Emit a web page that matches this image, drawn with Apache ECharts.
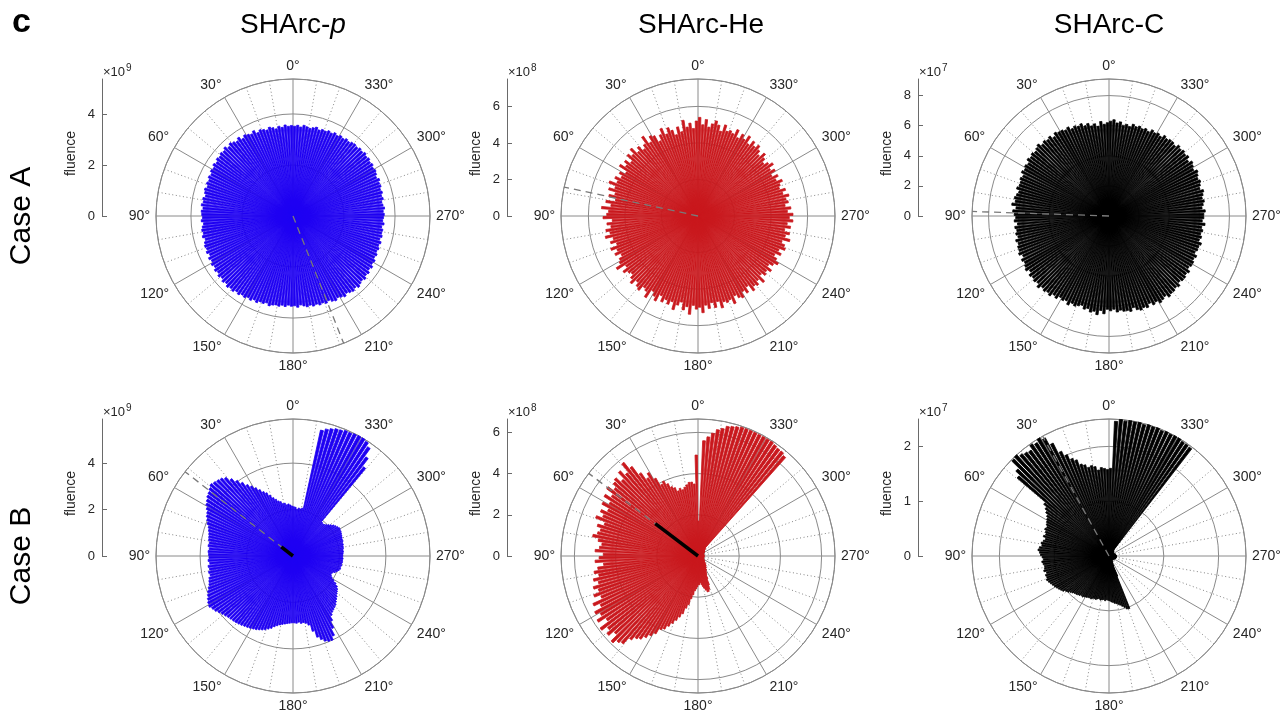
<!DOCTYPE html>
<html><head><meta charset="utf-8">
<script src="https://cdn.jsdelivr.net/npm/echarts@6/dist/echarts.min.js"></script>
<style>html,body{margin:0;padding:0;background:#fff}#c{width:1288px;height:712px}</style>
</head><body><div id="c"></div>
<script>
// ---- DATA ----
// 180 angular bins of 2 degrees; bin centres in degrees (0 at top, counter-clockwise)
const binWidth = 2;
const binCenters = Array.from({length: 180}, (_, i) => binWidth * i + binWidth / 2);
const angleTickValues = [0, 30, 60, 90, 120, 150, 180, 210, 240, 270, 300, 330];
const columnTitles = ['SHArc-', 'SHArc-He', 'SHArc-C'];
const rowTitles = ['Case A', 'Case B'];
const exponents = [9, 8, 7];

// fluence per bin, in units of 10^exponent
const caseA_p = [
3.55,3.52,3.58,3.50,3.56, 3.48,3.55,3.60,3.52,3.58, 3.62,3.55,3.68,3.60,3.65,
3.70,3.62,3.75,3.66,3.72, 3.78,3.70,3.80,3.72,3.76, 3.70,3.74,3.66,3.72,3.64,
3.68,3.60,3.65,3.58,3.62, 3.55,3.62,3.58,3.52,3.60, 3.56,3.62,3.54,3.60,3.58,
3.55,3.60,3.52,3.58,3.62, 3.58,3.64,3.56,3.62,3.66, 3.62,3.68,3.60,3.70,3.64,
3.72,3.66,3.74,3.68,3.76, 3.70,3.78,3.72,3.80,3.74, 3.78,3.70,3.75,3.68,3.72,
3.65,3.70,3.62,3.68,3.60, 3.62,3.56,3.64,3.58,3.55, 3.58,3.52,3.56,3.50,3.54,
3.52,3.58,3.50,3.55,3.60, 3.56,3.62,3.58,3.64,3.60, 3.66,3.60,3.68,3.72,3.65,
3.70,3.76,3.68,3.74,3.78, 3.72,3.80,3.74,3.70,3.76, 3.68,3.72,3.64,3.70,3.62,
3.66,3.58,3.62,3.56,3.60, 3.55,3.60,3.52,3.58,3.54, 3.56,3.50,3.58,3.52,3.55,
3.58,3.54,3.60,3.55,3.52, 3.60,3.56,3.62,3.58,3.64, 3.62,3.68,3.60,3.66,3.70,
3.66,3.72,3.68,3.74,3.70, 3.76,3.70,3.74,3.68,3.72, 3.70,3.64,3.68,3.62,3.66,
3.60,3.65,3.58,3.62,3.56, 3.58,3.52,3.60,3.55,3.50, 3.54,3.58,3.50,3.56,3.52];
const caseA_He = [
5.2,4.8,5.1,4.9,5.3, 4.7,5.0,4.6,4.9,5.1, 4.8,5.2,4.9,4.6,5.0,
5.1,4.8,5.3,4.9,4.7, 5.0,4.8,5.2,4.9,5.1, 4.7,5.0,4.8,5.1,4.6,
4.9,4.7,5.0,4.8,5.2, 4.8,5.1,4.7,5.0,4.6, 5.1,4.8,5.3,4.9,5.0,
5.2,4.7,5.0,4.8,5.1, 4.9,5.2,4.8,5.0,4.7, 5.1,4.8,5.0,4.7,4.9,
5.0,5.3,4.8,5.1,4.9, 4.8,5.0,5.2,4.9,5.1, 5.2,4.9,5.0,5.3,4.8,
5.0,5.2,4.8,5.1,4.9, 5.1,4.9,5.3,5.0,4.8, 5.2,5.0,5.4,4.9,5.1,
5.0,5.3,4.9,5.1,4.8, 5.1,4.8,5.2,4.9,5.0, 4.9,5.2,4.8,5.0,5.1,
4.8,5.0,4.7,5.1,4.9, 5.0,4.8,5.1,4.7,4.9, 4.8,5.0,4.7,4.9,5.1,
4.9,4.7,5.0,4.8,5.1, 5.0,4.8,5.2,4.9,5.1, 4.8,5.1,4.9,5.2,5.0,
5.2,4.9,5.1,4.8,5.0, 4.9,5.1,4.8,5.0,4.7, 4.8,5.0,4.7,4.9,4.6,
4.9,4.7,5.0,4.8,4.6, 4.8,5.0,4.7,4.9,5.1, 4.9,5.1,4.8,5.2,4.9,
5.1,4.8,5.2,4.9,5.0, 4.9,5.2,4.8,5.1,5.3, 5.1,4.9,5.3,5.0,5.4];
const caseA_C = [
6.2,6.1,6.3,6.0,6.2, 6.1,6.3,6.2,6.4,6.3, 6.4,6.3,6.5,6.4,6.5,
6.5,6.6,6.4,6.6,6.5, 6.6,6.5,6.7,6.6,6.5, 6.6,6.5,6.6,6.4,6.5,
6.4,6.5,6.3,6.4,6.3, 6.3,6.4,6.2,6.3,6.4, 6.3,6.5,6.2,6.4,6.3,
6.2,6.3,6.1,6.3,6.2, 6.3,6.2,6.4,6.3,6.4, 6.4,6.5,6.3,6.5,6.4,
6.5,6.6,6.4,6.6,6.5, 6.6,6.5,6.7,6.5,6.6, 6.5,6.6,6.4,6.5,6.3,
6.4,6.3,6.5,6.3,6.4, 6.3,6.2,6.4,6.3,6.5, 6.4,6.6,6.3,6.5,6.2,
6.3,6.2,6.4,6.3,6.4, 6.4,6.5,6.3,6.5,6.6, 6.5,6.6,6.4,6.6,6.5,
6.7,6.6,6.5,6.7,6.6, 6.6,6.5,6.6,6.4,6.5, 6.5,6.4,6.5,6.3,6.4,
6.4,6.3,6.4,6.2,6.3, 6.3,6.4,6.2,6.3,6.2, 6.3,6.2,6.4,6.2,6.3,
6.3,6.4,6.2,6.3,6.4, 6.3,6.4,6.5,6.3,6.4, 6.5,6.4,6.5,6.6,6.4,
6.5,6.6,6.4,6.6,6.5, 6.6,6.5,6.6,6.4,6.5, 6.5,6.4,6.5,6.3,6.4,
6.3,6.4,6.2,6.3,6.2, 6.3,6.2,6.3,6.1,6.2, 6.1,6.3,6.2,6.4,6.3];
const caseB_p = [
2.15,2.20,2.25,2.22,2.30, 2.30,2.40,2.45,2.55,2.65, 2.80,2.95,3.05,3.20,3.35,
3.50,3.65,3.85,4.05,4.25, 4.45,4.55,4.60,4.65,4.70, 4.62,4.55,4.50,4.42,4.35,
4.25,4.15,4.10,4.02,3.95, 3.85,3.80,3.75,3.72,3.70, 3.65,3.68,3.62,3.66,3.64,
3.62,3.66,3.60,3.68,3.64, 3.70,3.66,3.74,3.78,3.82, 3.90,3.98,4.05,4.12,4.18,
4.22,4.15,4.10,4.02,3.95, 3.90,3.85,3.82,3.80,3.78, 3.75,3.72,3.68,3.65,3.62,
3.58,3.55,3.50,3.45,3.40, 3.32,3.25,3.15,3.08,3.02, 2.98,2.95,2.92,2.90,2.88,
2.88,2.90,2.86,2.92,2.90, 2.95,3.05,3.35,3.65,3.80, 3.92,3.98,4.00,3.85,3.55,
3.25,3.05,2.95,2.90,2.85, 2.80,2.72,2.65,2.58,2.50, 2.45,2.40,2.32,2.20,2.05,
1.92,1.85,1.82,1.85,1.95, 2.02,2.08,2.12,2.10,2.14, 2.12,2.15,2.14,2.16,2.14,
2.15,2.16,2.18,2.17,2.20, 2.20,2.22,2.21,2.25,2.24, 2.26,2.28,2.30,2.32,2.33,
2.34,2.30,2.25,2.20,2.12, 2.05,1.98,1.92,1.90,1.92, 4.90,5.30,5.70,5.85,5.90,
5.90,5.88,5.85,5.85,5.80, 5.78,5.72,5.65,5.55,2.10, 2.05,2.08,2.02,2.10,2.12];
const caseB_He = [
4.9,3.5,3.6,3.6,3.5, 3.4,3.3,3.4,3.3,3.5, 3.6,3.8,4.0,3.9,4.3,
4.7,4.5,4.9,5.4,5.8, 5.3,5.6,5.2,5.5,5.4, 5.2,5.5,5.1,5.4,5.0,
5.3,4.9,5.2,5.0,5.3, 4.8,5.1,4.9,5.0,5.2, 4.9,4.7,4.8,5.0,4.6,
4.8,5.0,4.6,4.9,5.1, 4.9,5.2,5.0,5.3,5.1, 5.4,5.1,5.6,5.3,5.7,
5.5,5.8,5.4,5.9,5.6, 5.8,5.5,5.9,5.7,5.6, 5.2,5.0,4.9,4.7,4.5,
4.3,4.0,3.9,3.7,3.5, 3.3,3.1,2.9,2.6,2.4, 2.1,1.9,1.7,1.6,1.5,
1.4,1.4,1.3,1.4,1.5, 1.6,1.7,1.8,1.8,1.7, 1.5,1.2,1.0,0.9,0.8,
0.8,0.7,0.7,0.6,0.6, 0.6,0.5,0.5,0.5,0.4, 0.4,0.4,0.4,0.35,0.35,
0.35,0.3,0.3,0.3,0.3, 0.3,0.3,0.3,0.3,0.3, 0.3,0.3,0.3,0.3,0.3,
0.3,0.3,0.3,0.3,0.3, 0.3,0.3,0.3,0.3,0.3, 0.3,0.3,0.3,0.35,0.35,
0.35,0.4,0.4,0.4,0.4, 0.45,0.5,0.5,0.5,6.4, 6.5,6.5,6.55,6.6,6.6,
6.6,6.6,6.6,6.6,6.6, 6.6,6.55,6.5,6.45,6.3, 6.2,6.0,5.8,5.6,1.7];
const caseB_C = [
1.58,1.60,1.62,1.58,1.65, 1.68,1.66,1.72,1.75,1.85, 1.90,2.00,2.10,2.30,2.45,
2.50,2.45,2.48,2.40,2.42, 2.45,2.50,2.48,2.30,2.20, 1.52,1.45,1.40,1.35,1.32,
1.30,1.28,1.25,1.27,1.24, 1.22,1.25,1.20,1.23,1.26, 1.24,1.28,1.30,1.27,1.25,
1.22,1.20,1.23,1.21,1.19, 1.20,1.22,1.18,1.21,1.20, 1.22,1.20,1.18,1.16,1.14,
1.12,1.10,1.08,1.06,1.02, 1.00,0.97,0.95,0.93,0.92, 0.91,0.90,0.88,0.89,0.87,
0.86,0.85,0.84,0.85,0.83, 0.82,0.83,0.81,0.80,0.82, 0.81,0.80,0.82,0.80,0.81,
0.82,0.84,0.85,0.87,0.88, 0.90,0.92,0.95,0.98,1.02, 1.03,0.40,0.20,0.15,0.12,
0.12,0.10,0.10,0.09,0.10, 0.09,0.10,0.08,0.09,0.10, 0.10,0.09,0.10,0.11,0.10,
0.11,0.12,0.11,0.12,0.13, 0.13,0.12,0.13,0.14,0.13, 0.14,0.13,0.14,0.13,0.14,
0.13,0.14,0.12,0.13,0.12, 0.12,0.11,0.12,0.10,0.11, 0.10,0.11,0.10,0.09,0.10,
0.09,0.10,0.09,0.10,0.11, 0.10,0.11,0.12,0.12,0.13, 0.15,2.47,2.48,2.48,2.50,
2.50,2.49,2.50,2.48,2.50, 2.49,2.50,2.48,2.50,2.49, 2.50,2.48,2.50,2.46,1.60];

// radial limits and fluence-axis tick labels (units of 10^exponent)
const rMaxA = [5.37, 7.5, 9.1];
const rMaxB = [5.9, 6.65, 2.5];
const ticksA = [[0, 2, 4], [0, 2, 4, 6], [0, 2, 4, 6, 8]];
const ticksB = [[0, 2, 4], [0, 2, 4, 6], [0, 1, 2]];
// dashed direction line (degrees) and black segment length (units of 10^exponent)
const dirA = [201.7, 77.8, 88.1];
const dirB = [52.0, 52.9, 29.0];
const segB = [0.64, 2.6, 0];

// ---- LAYOUT / STYLE ----
const CX = [293, 698, 1109];
const CY = [216, 556];
const R = 137;
const AXIS_OFFSET = 191;
const COLORS = ['#1e00f2', '#c9181d', '#000000'];
const FONT = 'Liberation Sans, Arial, Helvetica, sans-serif';
const TXT = '#262626';
const GRID = '#8a8a8a';

const panels = [];
const rowsData = [[caseA_p, caseA_He, caseA_C], [caseB_p, caseB_He, caseB_C]];
const rowsMax = [rMaxA, rMaxB];
const rowsTicks = [ticksA, ticksB];
const rowsDir = [dirA, dirB];
const rowsSeg = [[0, 0, 0], segB];
for (let r = 0; r < 2; r++) {
  for (let c = 0; c < 3; c++) {
    panels.push({
      cx: CX[c], cy: CY[r], values: rowsData[r][c], rmax: rowsMax[r][c],
      ticks: rowsTicks[r][c], dir: rowsDir[r][c], seg: rowsSeg[r][c],
      color: COLORS[c], exp: exponents[c]
    });
  }
}

const polar = [], angleAxis = [], radiusAxis = [], grid = [], xAxis = [], yAxis = [], series = [], graphic = [];
panels.forEach((p, k) => {
  const step = p.ticks[1] - p.ticks[0];
  polar.push({center: [p.cx, p.cy], radius: R});
  angleAxis.push({
    polarIndex: k, type: 'value', min: 0, max: 360, interval: 30,
    startAngle: 90, clockwise: false,
    axisLine: {show: true, lineStyle: {color: GRID, width: 1}},
    axisTick: {show: false},
    axisLabel: {show: true, margin: 6, fontSize: 14, color: TXT, fontFamily: FONT,
      formatter: v => (v >= 360 ? '' : v + '°')},
    splitLine: {show: true, lineStyle: {color: GRID, width: 1}},
    minorTick: {show: false, splitNumber: 3},
    minorSplitLine: {show: true, lineStyle: {color: '#858585', width: 1, type: [1, 2.6]}}
  });
  radiusAxis.push({
    polarIndex: k, type: 'value', min: 0, max: p.rmax, interval: step,
    axisLine: {show: false}, axisTick: {show: false}, axisLabel: {show: false},
    splitLine: {show: true, lineStyle: {color: GRID, width: 1}}
  });
  grid.push({left: p.cx - AXIS_OFFSET, top: p.cy - R, width: 1, height: R});
  xAxis.push({gridIndex: k, type: 'value', show: false, min: 0, max: 1});
  yAxis.push({
    gridIndex: k, type: 'value', min: 0, max: p.rmax,
    axisLine: {show: true, lineStyle: {color: '#6a6a6a', width: 1}},
    axisTick: {show: true, inside: true, length: 5, customValues: p.ticks, lineStyle: {color: '#6a6a6a'}},
    axisLabel: {show: true, customValues: p.ticks, margin: 7, fontSize: 13, color: TXT, fontFamily: FONT},
    splitLine: {show: false},
    name: 'fluence', nameLocation: 'middle', nameRotate: 90, nameGap: 24,
    nameTextStyle: {fontSize: 14, color: TXT, fontFamily: FONT, padding: [0, 12, 0, 0]}
  });
  series.push({
    type: 'bar', coordinateSystem: 'polar', polarIndex: k,
    data: p.values.map((v, i) => [v, binCenters[i]]),
    barCategoryGap: '32%',
    itemStyle: {color: p.color, borderColor: p.color, borderWidth: 0.8},
    silent: true, z: 2
  });
  series.push({
    type: 'line', coordinateSystem: 'polar', polarIndex: k, clip: false,
    data: [[0, p.dir], [p.rmax, p.dir]], showSymbol: false, symbol: 'none',
    lineStyle: {color: '#7a7a7a', width: 1.3, type: [7, 5]}, silent: true, z: 4
  });
  if (p.seg > 0) {
    series.push({
      type: 'line', coordinateSystem: 'polar', polarIndex: k, clip: false,
      data: [[0, p.dir], [p.seg, p.dir]], showSymbol: false, symbol: 'none',
      lineStyle: {color: '#000', width: 3.5}, silent: true, z: 5
    });
  }
  graphic.push({
    type: 'text', x: p.cx - AXIS_OFFSET + 1, y: p.cy - R - 7,
    style: {text: '{a|×10}{b|' + p.exp + '}', verticalAlign: 'middle', align: 'left',
      rich: {a: {fontSize: 13, fill: TXT, fontFamily: FONT},
             b: {fontSize: 10, fill: TXT, fontFamily: FONT, verticalAlign: 'top', padding: [0, 0, 8, 1]}}}
  });
});

graphic.push({type: 'text', x: 12, y: 23, style: {text: 'c', fontSize: 34, fontWeight: 'bold', fontFamily: FONT, fill: '#000', verticalAlign: 'middle'}});
columnTitles.forEach((t, c) => {
  const txt = c === 0 ? '{n|' + t + '}{i|p}' : '{n|' + t + '}';
  graphic.push({type: 'text', x: CX[c] + (c === 1 ? 3 : 0), y: 25,
    style: {text: txt, align: 'center', verticalAlign: 'middle',
      rich: {n: {fontSize: 28, fontFamily: FONT, fill: '#000'},
             i: {fontSize: 28, fontFamily: FONT, fill: '#000', fontStyle: 'italic'}}}});
});
rowTitles.forEach((t, r) => {
  graphic.push({type: 'text', x: 22, y: CY[r], rotation: Math.PI / 2,
    style: {text: t, fontSize: 30, fontFamily: FONT, fill: '#000', align: 'center', verticalAlign: 'middle'}});
});

const chart = echarts.init(document.getElementById('c'), null, {renderer: 'canvas'});
chart.setOption({
  animation: false, backgroundColor: '#fff',
  polar, angleAxis, radiusAxis, grid, xAxis, yAxis, series, graphic
});
</script></body></html>
